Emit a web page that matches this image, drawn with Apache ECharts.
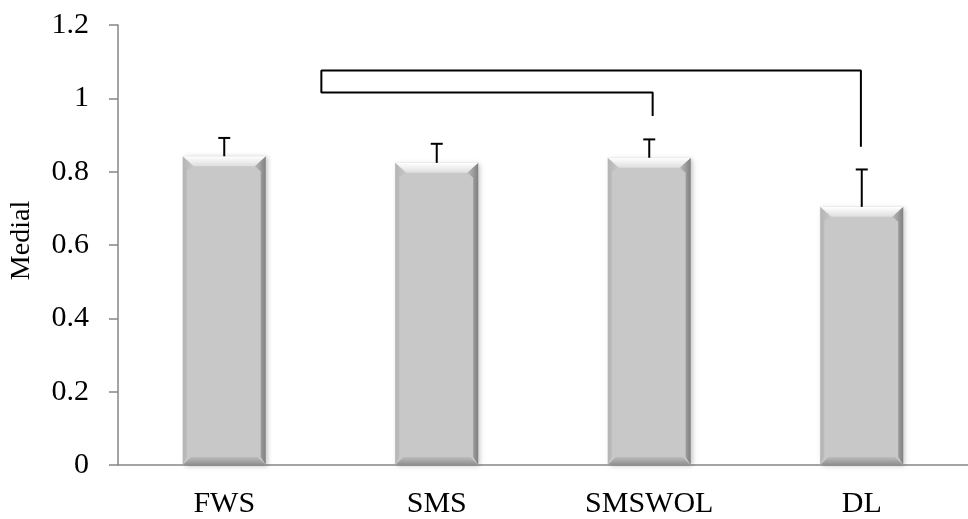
<!DOCTYPE html>
<html>
<head>
<meta charset="utf-8">
<script src="https://cdn.jsdelivr.net/npm/echarts@6/dist/echarts.min.js"></script>
<style>
html,body{margin:0;padding:0;background:#fff;}
#chart{width:968px;height:519px;}
</style>
</head>
<body>
<div id="chart"></div>
<script>
var categories = ['FWS', 'SMS', 'SMSWOL', 'DL'];
var means = [0.842, 0.824, 0.838, 0.704];
var errors = [0.050, 0.052, 0.050, 0.102];
var yTicks = [0, 0.2, 0.4, 0.6, 0.8, 1, 1.2];
var axisTitle = 'Medial';
// significance bracket path, in (category position, value)
var bracketX = [2.016, 2.016, 0.457, 0.457, 2.996, 2.996];
var bracketY = [0.952, 1.016, 1.016, 1.076, 1.076, 0.868];

var FONT = '"Liberation Serif", "Times New Roman", serif';
var chart = echarts.init(document.getElementById('chart'), null, {renderer: 'canvas'});

var BAR_FRAC = 0.39;

function bevelItem(params, api) {
  var x = api.value(0), v = api.value(1);
  var top = api.coord([x, v]);
  var base = api.coord([x, 0]);
  var w = api.size([1, 0])[0] * BAR_FRAC;
  var L = top[0] - w / 2, R = top[0] + w / 2, T = top[1], B = base[1];
  var bv = 10, bi = 11, bb = 8;
  return {
    type: 'group',
    children: [
      {type: 'rect', shape: {x: L, y: T, width: w, height: B - T},
       style: {fill: '#c8c8c8', shadowBlur: 5, shadowColor: 'rgba(0,0,0,0.25)', shadowOffsetX: 2, shadowOffsetY: 1}},
      // left edge
      {type: 'polygon', shape: {points: [[L, T], [L + bi, T + bv], [L + 4, T + bv + 4], [L + 4, B - bb], [L, B]]},
       style: {fill: new echarts.graphic.LinearGradient(0, 0, 1, 0, [{offset: 0, color: '#b4b4b4'}, {offset: 1, color: '#c8c8c8'}])}},
      // right edge
      {type: 'polygon', shape: {points: [[R, T], [R - bi, T + bv], [R - 5, T + bv + 5], [R - 5, B - bb], [R, B]]},
       style: {fill: new echarts.graphic.LinearGradient(0, 0, 1, 0, [{offset: 0, color: '#bdbdbd'}, {offset: 1, color: '#808080'}])}},
      // top bevel
      {type: 'polygon', shape: {points: [[L, T], [R, T], [R - bi, T + bv], [L + bi, T + bv]]},
       style: {fill: new echarts.graphic.LinearGradient(0, 0, 0, 1, [{offset: 0, color: '#ffffff'}, {offset: 1, color: '#dedede'}])}},
      // bottom bevel
      {type: 'polygon', shape: {points: [[L, B], [R, B], [R - bb, B - bb], [L + bb, B - bb]]},
       style: {fill: new echarts.graphic.LinearGradient(0, 0, 0, 1, [{offset: 0, color: '#bcbcbc'}, {offset: 1, color: '#8e8e8e'}])}}
    ]
  };
}

function errorItem(params, api) {
  var x = api.value(0), v = api.value(1), e = api.value(2);
  var p1 = api.coord([x, v]);
  var p2 = api.coord([x, v + e]);
  var cap = 6;
  var st = {stroke: '#000', lineWidth: 2};
  return {
    type: 'group',
    children: [
      {type: 'line', shape: {x1: p1[0], y1: p1[1], x2: p2[0], y2: p2[1]}, style: st},
      {type: 'line', shape: {x1: p2[0] - cap, y1: p2[1], x2: p2[0] + cap, y2: p2[1]}, style: st}
    ]
  };
}

var barData = categories.map(function (c, i) { return [i, means[i]]; });
var errData = categories.map(function (c, i) { return [i, means[i], errors[i]]; });
var bracketData = bracketX.map(function (x, i) { return [x, bracketY[i]]; });

chart.setOption({
  backgroundColor: '#fff',
  animation: false,
  grid: {left: 117, top: 25, width: 865, height: 444, containLabel: false},
  xAxis: [{
    type: 'category',
    data: categories,
    axisLine: {show: true, onZero: false, lineStyle: {color: '#868686', width: 1.5}},
    axisTick: {show: false},
    axisLabel: {fontFamily: FONT, fontSize: 30, color: '#000', margin: 24}
  }, {
    type: 'value', min: -0.5, max: 3.5, show: false
  }],
  yAxis: {
    type: 'value',
    min: yTicks[0], max: yTicks[yTicks.length - 1], interval: 0.2,
    name: axisTitle,
    nameLocation: 'middle',
    nameGap: 82,
    nameTextStyle: {fontFamily: FONT, fontSize: 28, color: '#000', padding: [0, 0, 0, 9]},
    splitLine: {show: false},
    axisLine: {show: true, onZero: false, lineStyle: {color: '#868686', width: 1.5}},
    axisTick: {show: true, inside: false, length: 9, lineStyle: {color: '#868686', width: 1.5}},
    axisLabel: {fontFamily: FONT, fontSize: 30, color: '#000', margin: 29,
      formatter: function (v) { return String(Math.round(v * 10) / 10); }}
  },
  series: [{
    type: 'custom',
    xAxisIndex: 0,
    renderItem: bevelItem,
    data: barData,
    encode: {x: 0, y: 1},
    z: 2
  }, {
    type: 'custom',
    xAxisIndex: 0,
    renderItem: errorItem,
    data: errData,
    encode: {x: 0, y: [1]},
    z: 3
  }, {
    type: 'line',
    xAxisIndex: 1,
    data: bracketData,
    symbol: 'none',
    lineStyle: {color: '#000', width: 2},
    z: 4
  }]
});
</script>
</body>
</html>
